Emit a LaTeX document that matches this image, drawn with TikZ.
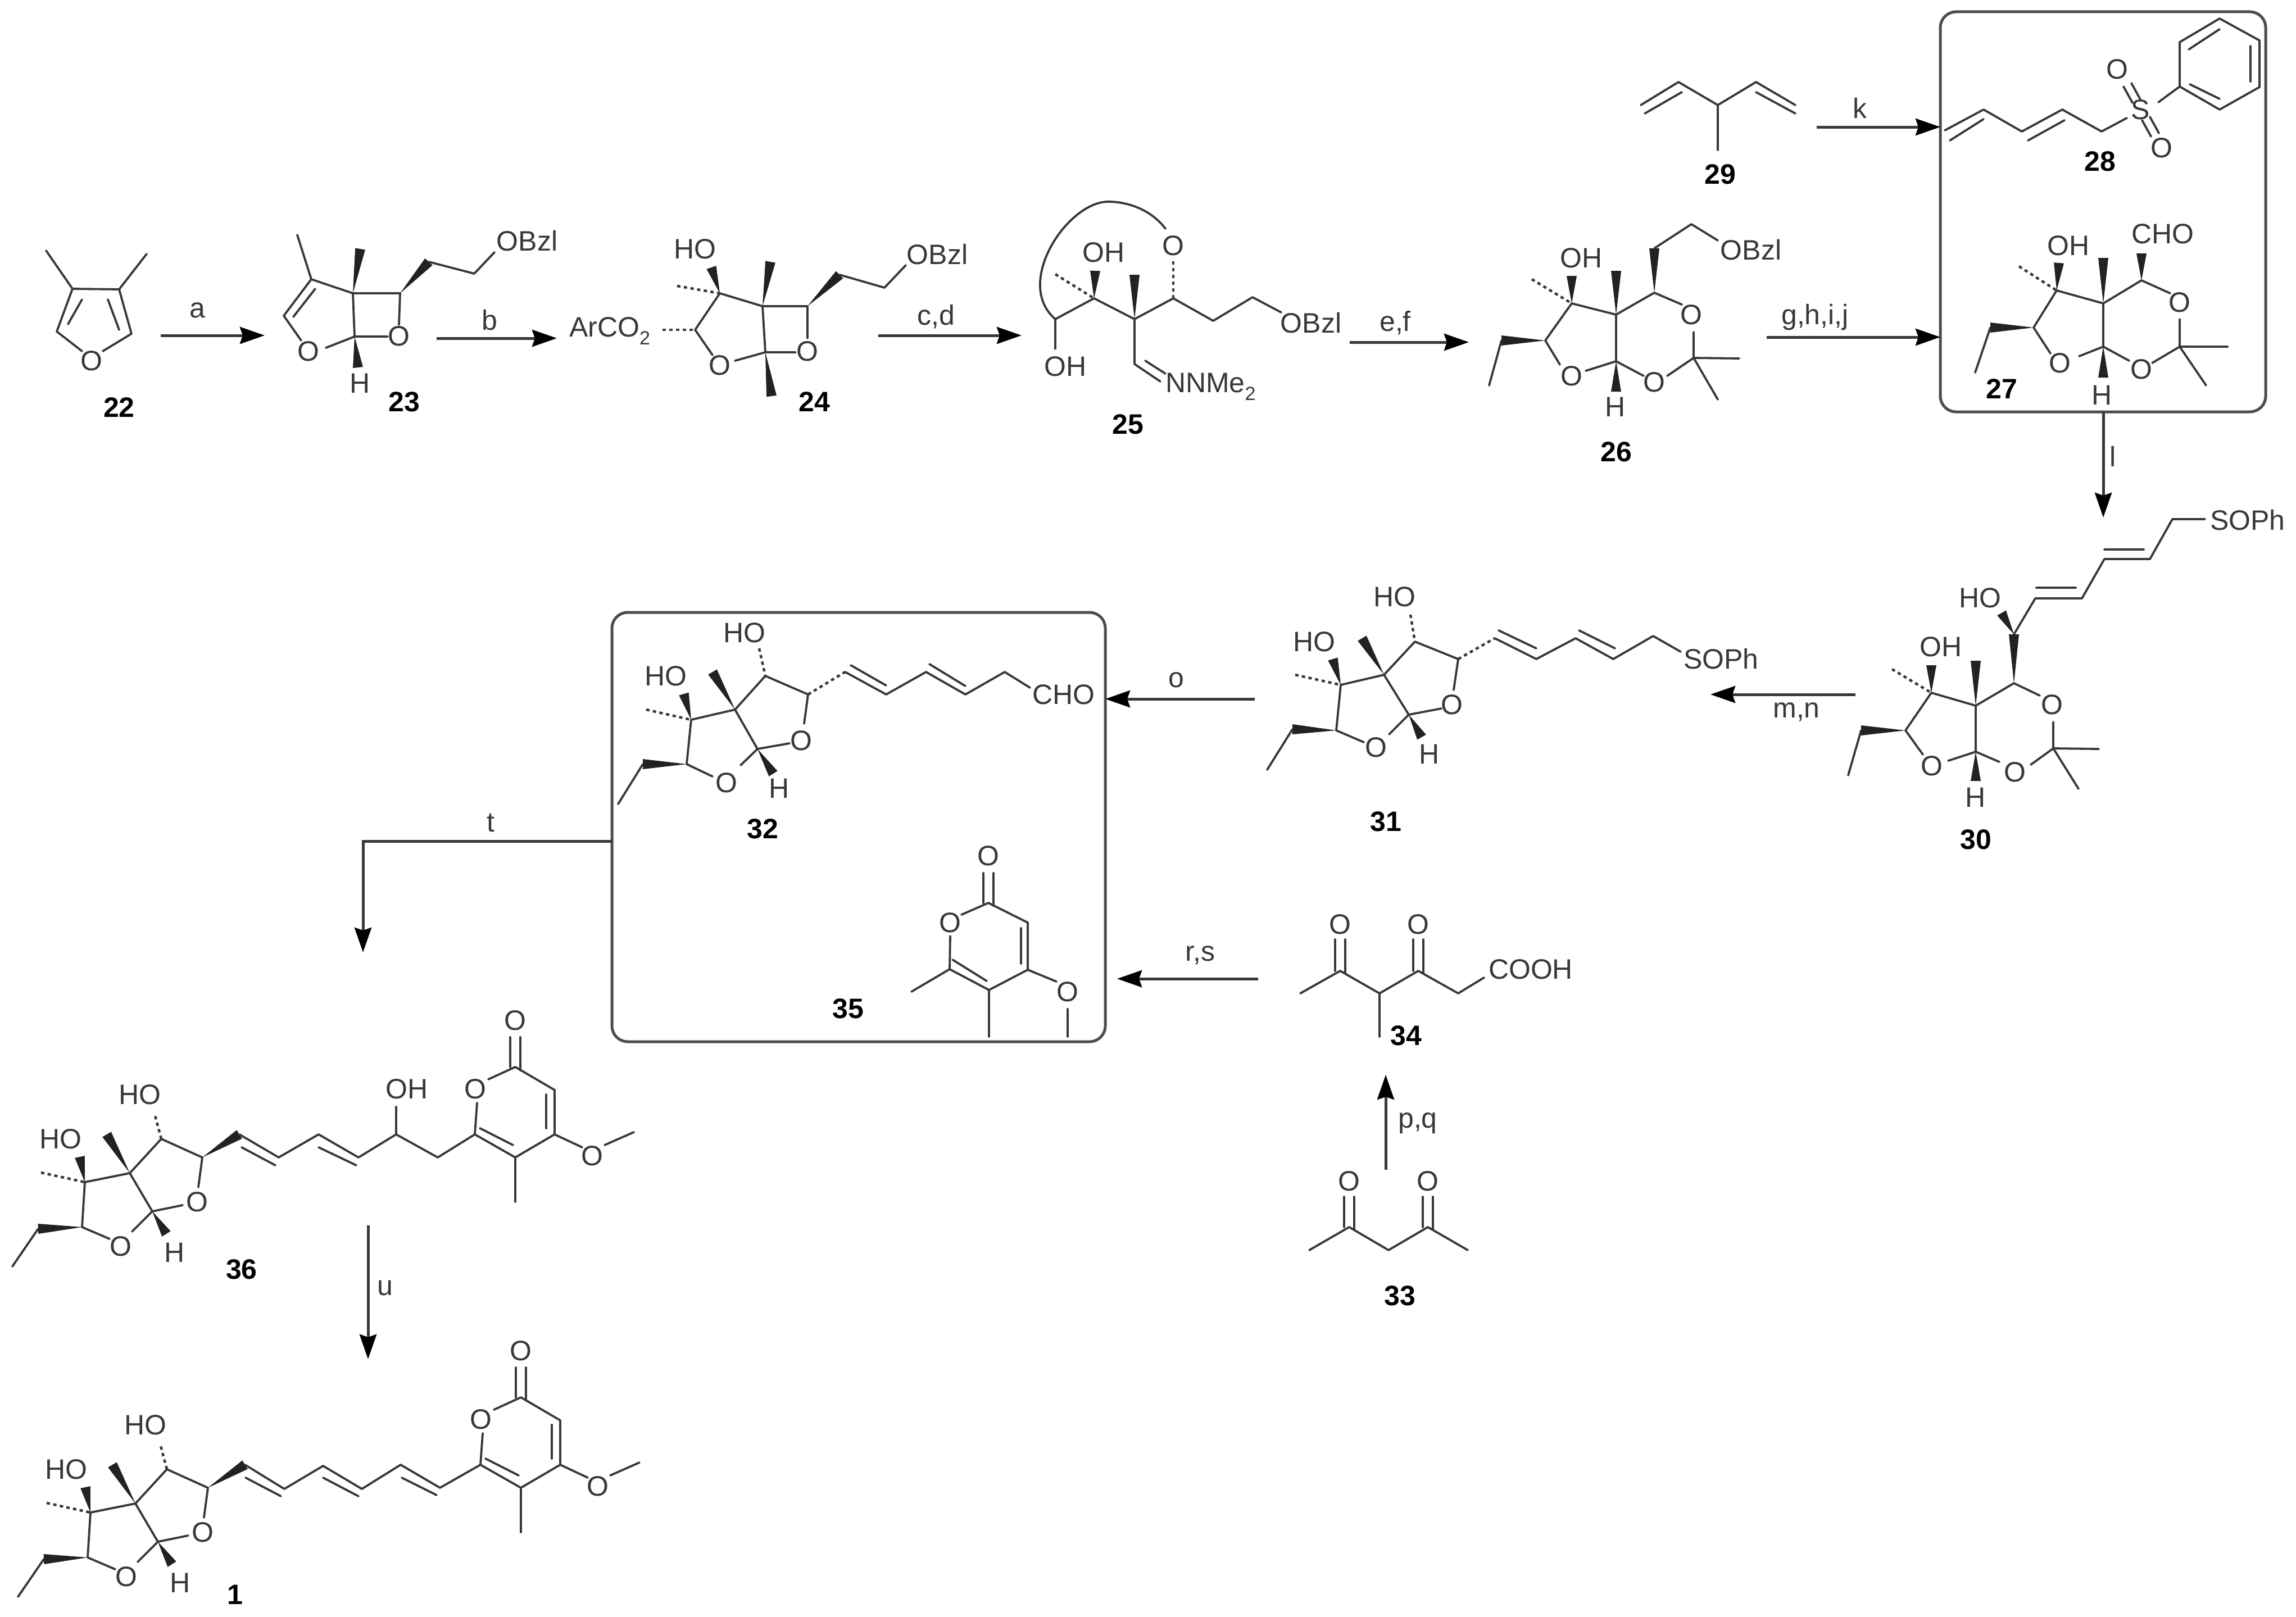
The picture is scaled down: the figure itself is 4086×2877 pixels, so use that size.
\documentclass[tikz,border=0pt]{standalone}
\usepackage{fontspec}
\setmainfont{Liberation Sans}
\usetikzlibrary{calc,arrows.meta}
\definecolor{ink}{gray}{0.22}
\newcommand{\wdg}[3][9pt]{\fill[ink!60!black] #2 -- ($#3!#1!90:#2$) -- ($#3!#1!-90:#2$) -- cycle;}
\newcommand{\sbt}[1]{\raisebox{-.28em}{\fontsize{34}{34}\selectfont #1}}
\tikzset{
 bond/.style={draw=ink,line width=3.8pt,line cap=round,line join=round},
 hash/.style={draw=ink,line width=4.5pt,dash pattern=on 6pt off 6pt},
 atom/.style={inner sep=0pt,outer sep=0pt,text=ink,font=\fontsize{50}{60}\selectfont},
 cmpd/.style={inner sep=0pt,outer sep=0pt,text=black,font=\fontsize{50}{60}\selectfont\bfseries},
 rgt/.style={inner sep=0pt,outer sep=0pt,text=ink,font=\fontsize{50}{60}\selectfont},
 arr/.style={draw=ink,line width=5pt,-{Stealth[length=44pt,width=30pt,inset=5pt,color=black]}},
 panel/.style={draw=ink!90,line width=5pt,rounded corners=28pt,inner sep=0pt,outer sep=0pt,anchor=north west},
}
% shared fused furofuran of 36 and 1
\newcommand{\furo}[1]{
 \draw[bond] (22,2254)--(68,2187);
 \wdg{(146,2184)}{(68,2187)}
 \draw[bond] (146,2184)--(195,2205);
 \node[atom] (#1o1) at (215,2218) {O};
 \draw[bond] (146,2184)--(151,2104)--(231,2088)--(287,2027)--(360,2060)--(353,2113);
 \wdg{(151,2104)}{(142,2059)}
 \node[atom] (#1ho1) at (108,2027) {HO};
 \draw[hash] (73,2087)--(151,2104);
 \wdg{(231,2088)}{(190,2019)}
 \draw[hash] (287,2027)--(275,1982);
 \node[atom] (#1ho2) at (249,1948) {HO};
 \node[atom] (#1o2) at (351,2139) {O};
 \draw[bond] (271,2156)--(325,2145);
 \draw[bond] (231,2088)--(271,2156)--(235,2192);
 \wdg{(271,2156)}{(296,2196)}
 \node[atom] (#1h) at (311,2229) {H};
 \wdg{(360,2060)}{(426,2019)}
}
% shared pyranone of 36 and 1
\newcommand{\pyr}[1]{
 \node[atom] (#1o3) at (846,1938) {O};
 \node[atom] (#1o4) at (917,1816) {O};
 \node[atom] (#1o5) at (1054,2057) {O};
 \draw[bond] (849,1963)--(845,2019)--(917,2060)--(987,2019)--(987,1940)--(917,1899)--(869,1921);
 \draw[bond] (854,2008)--(913,2038);
 \draw[bond] (972,1948)--(972,2008);
 \draw[bond] (908,1846)--(908,1899);
 \draw[bond] (926,1846)--(926,1905);
 \draw[bond] (917,2060)--(917,2139);
 \draw[bond] (987,2019)--(1036,2042);
 \draw[bond] (1076,2038)--(1128,2015);
}
\begin{document}
\begin{tikzpicture}[x=1pt,y=-1pt]
\useasboundingbox (0,0) rectangle (4086,2877);
\fill[white] (0,0) rectangle (4086,2877);

% ---------- panels
\node[panel,minimum width=579pt,minimum height=712pt] (box1) at (3453,21) {};
\node[panel,minimum width=878pt,minimum height=764pt] (box2) at (1089,1090) {};

% ---------- 22
\draw[bond] (82,446)--(129,514)--(212,515)--(261,452);
\draw[bond] (129,514)--(101,590)--(146,625);
\draw[bond] (212,515)--(234,594)--(183,625);
\draw[bond] (146,533)--(121,577);
\draw[bond] (192,533)--(212,587);
\node[atom] (o22) at (163,642) {O};
\node[cmpd] (n22) at (212,725) {22};

% ---------- 23
\draw[bond] (529,418)--(554,497)--(628,522)--(712,522)--(710,578);
\draw[bond] (554,497)--(505,562)--(536,606);
\draw[bond] (561,514)--(522,564);
\draw[bond] (628,522)--(631,599)--(690,599);
\draw[bond] (631,599)--(580,619);
\wdg{(628,522)}{(641,443)}
\wdg{(631,599)}{(637,654)}
\wdg{(712,522)}{(763,466)}
\draw[bond] (763,466)--(844,487)--(880,449);
\node[atom] (o23a) at (549,625) {O};
\node[atom] (o23b) at (710,598) {O};
\node[atom] (h23) at (641,682) {H};
\node[atom] (bzl23) at (938,429) {OBzl};
\node[cmpd] (n23) at (719,715) {23};

% ---------- 24
\node[atom,anchor=west] (ar24) at (1013,589) {ArCO\sbt{2}};
\draw[hash] (1179,587)--(1237,587);
\draw[bond] (1237,587)--(1281,522)--(1357,545)--(1437,545)--(1437,602);
\draw[bond] (1237,587)--(1268,632);
\draw[bond] (1357,545)--(1362,627)--(1416,627);
\draw[bond] (1362,627)--(1308,642);
\wdg{(1281,522)}{(1266,476)}
\draw[hash] (1205,509)--(1281,522);
\wdg{(1357,545)}{(1371,466)}
\wdg{(1362,627)}{(1373,705)}
\wdg{(1437,545)}{(1494,489)}
\draw[bond] (1494,489)--(1574,512)--(1612,472);
\node[atom] (ho24) at (1237,443) {HO};
\node[atom] (o24a) at (1281,650) {O};
\node[atom] (o24b) at (1437,625) {O};
\node[atom] (bzl24) at (1668,453) {OBzl};
\node[cmpd] (n24) at (1449,715) {24};

% ---------- 25
\draw[bond] (2074,407) .. controls (2050,375) and (2010,359) .. (1972,359) .. controls (1900,359) and (1803,504) .. (1878,568);
\draw[bond] (1878,621)--(1878,568)--(1947,531)--(2019,568)--(2088,531)--(2159,571)--(2229,529)--(2280,556);
\draw[bond] (2019,568)--(2019,648)--(2065,679);
\draw[bond] (2038,642)--(2074,665);
\wdg{(1947,531)}{(1949,482)}
\draw[hash] (1878,488)--(1947,531);
\wdg{(2019,568)}{(2019,489)}
\draw[hash] (2088,531)--(2088,459);
\node[atom] (o25) at (2088,437) {O};
\node[atom] (oh25a) at (1964,449) {OH};
\node[atom] (oh25b) at (1896,652) {OH};
\node[atom] (bzl25) at (2333,575) {OBzl};
\node[atom,anchor=west] (nn25) at (2074,688) {NNMe\sbt{2}};
\node[cmpd] (n25) at (2007,755) {25};

% ---------- 26
\draw[bond] (2650,686)--(2672,606);
\wdg{(2750,606)}{(2672,606)}
\draw[bond] (2776,649)--(2750,606)--(2797,540)--(2876,560)--(2944,521)--(2993,542);
\wdg{(2797,540)}{(2797,491)}
\draw[hash] (2726,497)--(2797,540);
\wdg{(2876,560)}{(2876,482)}
\draw[bond] (2876,560)--(2876,643)--(2925,669);
\draw[bond] (2876,643)--(2822,660);
\wdg{(2876,643)}{(2876,697)}
\wdg{(2944,521)}{(2944,442)}
\draw[bond] (2944,442)--(3010,399)--(3057,428);
\draw[bond] (3014,591)--(3014,637)--(2967,669);
\draw[bond] (3014,637)--(3095,638);
\draw[bond] (3014,637)--(3057,711);
\node[atom] (oh26) at (2814,459) {OH};
\node[atom] (bzl26) at (3116,445) {OBzl};
\node[atom] (o26a) at (2797,669) {O};
\node[atom] (o26b) at (3010,560) {O};
\node[atom] (o26c) at (2944,680) {O};
\node[atom] (h26) at (2875,724) {H};
\node[cmpd] (n26) at (2876,804) {26};

% ---------- 29
\draw[bond] (2920,187)--(2987,146)--(3057,187)--(3125,146)--(3195,187);
\draw[bond] (2927,202)--(2993,164);
\draw[bond] (3125,164)--(3195,202);
\draw[bond] (3057,187)--(3057,267);
\node[cmpd] (n29) at (3061,310) {29};

% ---------- 28
\draw[bond] (3461,232)--(3530,195)--(3598,234)--(3670,195)--(3740,234)--(3785,210);
\draw[bond] (3470,250)--(3530,212);
\draw[bond] (3609,250)--(3674,214);
\node[atom] (s28) at (3809,195) {S};
\node[atom] (o28a) at (3768,123) {O};
\node[atom] (o28b) at (3847,263) {O};
\draw[bond] (3779,154)--(3795,183);
\draw[bond] (3793,148)--(3809,177);
\draw[bond] (3812,214)--(3828,243);
\draw[bond] (3826,208)--(3842,237);
\draw[bond] (3841,182)--(3879,154)--(3879,75)--(3950,33)--(4021,72)--(4021,155)--(3950,195)--(3879,154);
\draw[bond] (3895,88)--(3950,52);
\draw[bond] (4005,82)--(4005,145);
\draw[bond] (3897,150)--(3950,176);
\node[cmpd] (n28) at (3737,287) {28};

% ---------- 27
\draw[bond] (3515,663)--(3542,583);
\wdg{(3619,583)}{(3542,583)}
\draw[bond] (3649,629)--(3619,583)--(3660,517)--(3743,540)--(3811,499)--(3862,522);
\wdg{(3660,517)}{(3664,468)}
\draw[hash] (3593,474)--(3660,517);
\wdg{(3743,540)}{(3743,459)}
\wdg{(3811,499)}{(3811,451)}
\draw[bond] (3743,540)--(3743,617)--(3789,642);
\draw[bond] (3743,617)--(3700,634);
\wdg{(3743,617)}{(3743,672)}
\draw[bond] (3879,568)--(3879,617)--(3830,646);
\draw[bond] (3879,617)--(3964,617);
\draw[bond] (3879,617)--(3926,686);
\node[atom] (oh27) at (3681,437) {OH};
\node[atom] (cho27) at (3849,416) {CHO};
\node[atom] (o27a) at (3666,646) {O};
\node[atom] (o27b) at (3879,538) {O};
\node[atom] (o27c) at (3811,657) {O};
\node[atom] (h27) at (3741,703) {H};
\node[cmpd] (n27) at (3562,692) {27};

% ---------- 30
\draw[bond] (3924,924)--(3866,924)--(3826,995)--(3745,995)--(3705,1065)--(3622,1065)--(3584,1129);
\draw[bond] (3745,978)--(3815,978);
\draw[bond] (3624,1046)--(3694,1046);
\wdg{(3584,1129)}{(3562,1091)}
\wdg{(3584,1216)}{(3584,1129)}
\draw[bond] (3289,1380)--(3312,1300);
\wdg{(3391,1300)}{(3312,1300)}
\draw[bond] (3422,1343)--(3391,1300)--(3437,1233)--(3516,1256)--(3584,1216)--(3630,1238);
\wdg{(3437,1233)}{(3437,1184)}
\draw[hash] (3367,1191)--(3437,1233);
\wdg{(3516,1256)}{(3516,1176)}
\draw[bond] (3516,1256)--(3516,1338)--(3558,1356);
\draw[bond] (3516,1338)--(3467,1354);
\wdg{(3516,1338)}{(3516,1390)}
\draw[bond] (3654,1285)--(3654,1332)--(3614,1361);
\draw[bond] (3654,1332)--(3735,1333);
\draw[bond] (3654,1332)--(3699,1404);
\node[atom] (so30) at (4000,926) {SOPh};
\node[atom] (ho30) at (3524,1064) {HO};
\node[atom] (oh30) at (3454,1151) {OH};
\node[atom] (o30a) at (3438,1363) {O};
\node[atom] (o30b) at (3652,1254) {O};
\node[atom] (o30c) at (3586,1374) {O};
\node[atom] (h30) at (3516,1419) {H};
\node[cmpd] (n30) at (3516,1494) {30};

% ---------- 31
\draw[bond] (2255,1370)--(2300,1298);
\wdg{(2378,1300)}{(2300,1298)}
\draw[bond] (2427,1321)--(2378,1300)--(2386,1219)--(2463,1201)--(2518,1142)--(2595,1173)--(2587,1228);
\wdg{(2386,1219)}{(2372,1173)}
\draw[hash] (2305,1201)--(2386,1219);
\wdg{(2463,1201)}{(2424,1136)}
\draw[hash] (2510,1094)--(2518,1142);
\draw[bond] (2463,1201)--(2507,1272)--(2565,1261);
\draw[bond] (2507,1272)--(2472,1307);
\wdg{(2507,1272)}{(2530,1312)}
\draw[hash] (2595,1173)--(2660,1136);
\draw[bond] (2660,1136)--(2734,1173)--(2804,1136)--(2871,1173)--(2942,1132)--(2991,1160);
\draw[bond] (2667,1122)--(2734,1154);
\draw[bond] (2810,1122)--(2874,1154);
\node[atom] (ho31a) at (2339,1142) {HO};
\node[atom] (ho31b) at (2482,1062) {HO};
\node[atom] (o31a) at (2449,1330) {O};
\node[atom] (o31b) at (2584,1254) {O};
\node[atom] (h31) at (2544,1342) {H};
\node[atom] (so31) at (3063,1173) {SOPh};
\node[cmpd] (n31) at (2466,1462) {31};

% ---------- 32
\draw[bond] (1100,1431)--(1144,1360);
\wdg{(1222,1360)}{(1144,1360)}
\draw[bond] (1268,1382)--(1222,1360)--(1230,1281)--(1308,1263)--(1362,1203)--(1438,1236)--(1431,1288);
\wdg{(1230,1281)}{(1217,1235)}
\draw[hash] (1150,1263)--(1230,1281);
\wdg{(1308,1263)}{(1268,1196)}
\draw[hash] (1351,1154)--(1362,1203);
\draw[bond] (1308,1263)--(1348,1333)--(1405,1323);
\draw[bond] (1348,1333)--(1318,1362);
\wdg{(1348,1333)}{(1376,1377)}
\draw[hash] (1438,1236)--(1504,1196);
\draw[bond] (1504,1196)--(1577,1236)--(1648,1196)--(1718,1236)--(1788,1196)--(1833,1224);
\draw[bond] (1514,1184)--(1577,1220);
\draw[bond] (1654,1182)--(1718,1221);
\node[atom] (ho32a) at (1185,1203) {HO};
\node[atom] (ho32b) at (1325,1126) {HO};
\node[atom] (o32a) at (1293,1393) {O};
\node[atom] (o32b) at (1426,1318) {O};
\node[atom] (h32) at (1387,1403) {H};
\node[atom] (cho32) at (1893,1236) {CHO};
\node[cmpd] (n32) at (1357,1475) {32};

% ---------- 35
\draw[bond] (1691,1666)--(1690,1725)--(1760,1762)--(1829,1726)--(1829,1642)--(1759,1607)--(1711,1628);
\draw[bond] (1695,1708)--(1756,1746);
\draw[bond] (1817,1652)--(1817,1715);
\draw[bond] (1750,1554)--(1750,1607);
\draw[bond] (1768,1554)--(1768,1612);
\draw[bond] (1690,1725)--(1622,1765);
\draw[bond] (1760,1762)--(1760,1845);
\draw[bond] (1829,1726)--(1880,1747);
\draw[bond] (1900,1796)--(1900,1845);
\node[atom] (o35a) at (1759,1523) {O};
\node[atom] (o35b) at (1691,1642) {O};
\node[atom] (o35c) at (1900,1765) {O};
\node[cmpd] (n35) at (1509,1795) {35};

% ---------- 34
\draw[bond] (2314,1768)--(2385,1728)--(2455,1768)--(2524,1728)--(2595,1768)--(2641,1740);
\draw[bond] (2455,1768)--(2455,1845);
\draw[bond] (2376,1672)--(2376,1728);
\draw[bond] (2394,1672)--(2394,1732);
\draw[bond] (2515,1672)--(2515,1728);
\draw[bond] (2533,1672)--(2533,1732);
\node[atom] (o34a) at (2385,1645) {O};
\node[atom] (o34b) at (2524,1645) {O};
\node[atom] (cooh34) at (2724,1725) {COOH};
\node[cmpd] (n34) at (2502,1843) {34};

% ---------- 33
\draw[bond] (2330,2225)--(2401,2184)--(2471,2225)--(2541,2184)--(2612,2225);
\draw[bond] (2392,2130)--(2392,2184);
\draw[bond] (2410,2130)--(2410,2188);
\draw[bond] (2532,2130)--(2532,2184);
\draw[bond] (2550,2130)--(2550,2188);
\node[atom] (o33a) at (2401,2102) {O};
\node[atom] (o33b) at (2541,2102) {O};
\node[cmpd] (n33) at (2491,2306) {33};

% ---------- 36
\furo{x}
\draw[bond] (426,2019)--(496,2060)--(567,2019)--(638,2060)--(705,2019)--(779,2060)--(845,2019);
\draw[bond] (430,2042)--(490,2074);
\draw[bond] (567,2042)--(634,2074);
\draw[bond] (705,2019)--(705,1970);
\node[atom] (oh36) at (724,1938) {OH};
\pyr{x}
\node[cmpd] (n36) at (430,2259) {36};

% ---------- 1
\begin{scope}[shift={(10,588)}]
\furo{y}
\pyr{y}
\end{scope}
\draw[bond] (436,2607)--(506,2650)--(575,2609)--(644,2650)--(713,2607)--(783,2648)--(855,2607);
\draw[bond] (437,2630)--(500,2663);
\draw[bond] (575,2630)--(638,2663);
\draw[bond] (715,2630)--(777,2661);
\node[cmpd] (n1) at (418,2838) {1};

% ---------- reaction arrows
\coordinate (a1) at (286,597);   \coordinate (a2) at (471,597);
\coordinate (b1) at (777,602);   \coordinate (b2) at (991,602);
\coordinate (c1) at (1563,597);  \coordinate (c2) at (1818,597);
\coordinate (e1) at (2402,609);  \coordinate (e2) at (2614,609);
\coordinate (k1) at (3233,226);
\coordinate (g1) at (3144,600);
\coordinate (l2) at (3743,921);
\coordinate (m1) at (3302,1236); \coordinate (m2) at (3044,1236);
\coordinate (o1) at (2233,1244);
\coordinate (r1) at (2239,1742); \coordinate (r2) at (1988,1742);
\coordinate (p1) at (2466,2082); \coordinate (p2) at (2466,1913);
\coordinate (t1) at (646,1497);  \coordinate (t2) at (646,1695);
\coordinate (u1) at (655,2181);  \coordinate (u2) at (655,2419);
\draw[arr] (a1)--(a2);
\draw[arr] (b1)--(b2);
\draw[arr] (c1)--(c2);
\draw[arr] (e1)--(e2);
\draw[arr] (k1)--(k1-|box1.west);
\draw[arr] (g1)--(g1-|box1.west);
\draw[arr] (l2|-box1.south)--(l2);
\draw[arr] (m1)--(m2);
\draw[arr] (o1)--(o1-|box2.east);
\draw[arr] (r1)--(r2);
\draw[arr] (p1)--(p2);
\draw[arr] (t1-|box2.west)--(t1)--(t2);
\draw[arr] (u1)--(u2);

\node[rgt] (la) at (351,552) {a};
\node[rgt] (lb) at (871,570) {b};
\node[rgt] (lc) at (1666,564) {c,d};
\node[rgt] (le) at (2483,575) {e,f};
\node[rgt] (lg) at (3230,565) {g,h,i,j};
\node[rgt] (lk) at (3310,192) {k};
\node[rgt] (ll) at (3760,812) {l};
\node[rgt] (lm) at (3197,1267) {m,n};
\node[rgt] (lo) at (2093,1210) {o};
\node[rgt] (lr) at (2136,1700) {r,s};
\node[rgt] (lp) at (2523,1999) {p,q};
\node[rgt] (lt) at (873,1465) {t};
\node[rgt] (lu) at (685,2293) {u};
\end{tikzpicture}
\end{document}
